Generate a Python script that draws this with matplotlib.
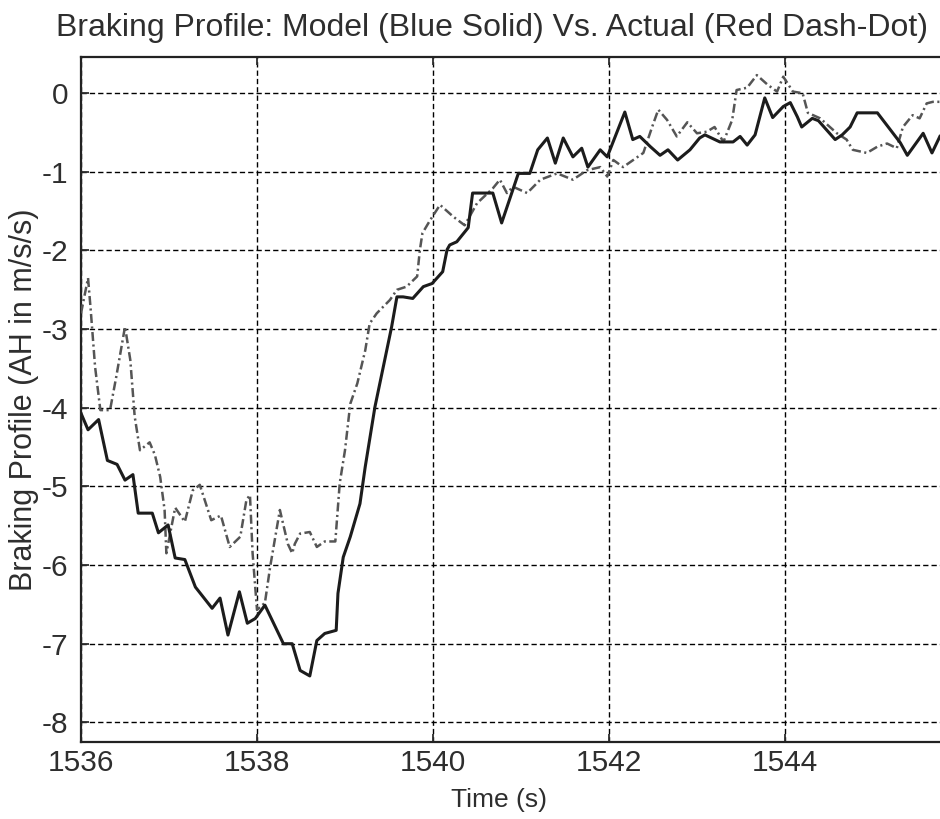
import matplotlib
matplotlib.use("Agg")
import matplotlib.pyplot as plt
import numpy as np

plt.rcParams['font.family'] = ['Liberation Sans', 'DejaVu Sans']
plt.rcParams['lines.scale_dashes'] = False

t0 = 1536.0

# Model (solid) : time offset from 1536 s, braking value
model_t = [0.00, 0.08, 0.20, 0.30, 0.41, 0.50, 0.59, 0.65, 0.81, 0.88, 0.99, 1.07, 1.18, 1.30,
           1.49, 1.58, 1.67, 1.80, 1.89, 1.98, 2.09, 2.30, 2.40, 2.49, 2.60, 2.68, 2.77, 2.90,
           2.92, 2.98, 3.06, 3.17, 3.23, 3.34, 3.45, 3.53, 3.59, 3.66, 3.77, 3.89, 3.99, 4.11,
           4.16, 4.19, 4.27, 4.40, 4.45, 4.68, 4.78, 4.97, 5.10, 5.19, 5.30, 5.39, 5.48, 5.59,
           5.69, 5.76, 5.90, 5.98, 6.18, 6.27, 6.35, 6.47, 6.58, 6.67, 6.78, 6.92, 7.03, 7.09,
           7.26, 7.41, 7.49, 7.57, 7.66, 7.77, 7.86, 7.98, 8.06, 8.14, 8.19, 8.31, 8.38, 8.57,
           8.65, 8.74, 8.82, 9.05, 9.31, 9.39, 9.57, 9.67, 9.76]
model_v = [-4.07, -4.28, -4.15, -4.67, -4.72, -4.92, -4.85, -5.34, -5.34, -5.59, -5.49, -5.91, -5.93, -6.28,
           -6.55, -6.42, -6.89, -6.34, -6.74, -6.68, -6.51, -7.00, -7.00, -7.34, -7.41, -6.96, -6.87, -6.83,
           -6.36, -5.90, -5.64, -5.22, -4.75, -3.99, -3.40, -2.97, -2.59, -2.59, -2.61, -2.46, -2.42, -2.27,
           -1.99, -1.93, -1.89, -1.71, -1.27, -1.27, -1.65, -1.02, -1.02, -0.72, -0.57, -0.89, -0.57, -0.81,
           -0.70, -0.94, -0.72, -0.81, -0.24, -0.59, -0.55, -0.68, -0.79, -0.72, -0.85, -0.72, -0.57, -0.53,
           -0.62, -0.62, -0.55, -0.66, -0.53, -0.06, -0.31, -0.17, -0.12, -0.30, -0.43, -0.32, -0.35, -0.59,
           -0.53, -0.43, -0.25, -0.25, -0.63, -0.79, -0.51, -0.76, -0.55]

# Actual (dash-dot)
actual_t = [0.00, 0.08, 0.11, 0.16, 0.22, 0.33, 0.40, 0.50, 0.56, 0.61, 0.67, 0.78, 0.84, 0.90,
            0.95, 0.97, 1.07, 1.18, 1.27, 1.35, 1.48, 1.59, 1.69, 1.81, 1.88, 1.92, 1.95, 2.00,
            2.09, 2.15, 2.26, 2.35, 2.40, 2.43, 2.49, 2.60, 2.68, 2.77, 2.89, 2.94, 3.00, 3.06,
            3.14, 3.23, 3.28, 3.36, 3.51, 3.59, 3.70, 3.82, 3.85, 3.88, 3.97, 4.08, 4.23, 4.36,
            4.50, 4.68, 4.76, 4.84, 4.91, 5.07, 5.22, 5.41, 5.59, 5.75, 5.90, 5.98, 6.05, 6.16,
            6.39, 6.49, 6.56, 6.66, 6.77, 6.89, 7.00, 7.11, 7.20, 7.30, 7.40, 7.45, 7.57, 7.68,
            7.80, 7.91, 7.98, 8.09, 8.20, 8.26, 8.40, 8.59, 8.70, 8.77, 8.93, 9.05, 9.16, 9.27,
            9.34, 9.45, 9.53, 9.61, 9.68, 9.76]
actual_v = [-2.80, -2.35, -2.75, -3.48, -4.03, -4.03, -3.61, -2.97, -3.39, -4.11, -4.54, -4.44, -4.60, -4.88,
            -5.30, -5.85, -5.27, -5.45, -5.05, -4.98, -5.43, -5.37, -5.77, -5.64, -5.17, -5.11, -5.85, -6.57,
            -6.48, -6.02, -5.30, -5.73, -5.85, -5.73, -5.60, -5.58, -5.77, -5.70, -5.70, -4.96, -4.54, -3.95,
            -3.69, -3.27, -2.93, -2.80, -2.63, -2.50, -2.46, -2.33, -2.00, -1.78, -1.61, -1.42, -1.57, -1.68,
            -1.40, -1.21, -1.10, -1.27, -1.19, -1.27, -1.10, -1.02, -1.10, -0.98, -0.94, -1.06, -0.85, -0.94,
            -0.76, -0.43, -0.21, -0.34, -0.55, -0.37, -0.51, -0.49, -0.43, -0.62, -0.34, 0.04, 0.07, 0.23,
            0.11, 0.02, 0.21, 0.02, 0.00, -0.25, -0.32, -0.51, -0.59, -0.72, -0.76, -0.68, -0.64, -0.70,
            -0.43, -0.28, -0.32, -0.13, -0.11, -0.11]

xticks = [1536, 1538, 1540, 1542, 1544]
yticks = [0, -1, -2, -3, -4, -5, -6, -7, -8]

fig = plt.figure(figsize=(9.4, 8.19), dpi=100)
ax = fig.add_axes([81/940, 1 - 742/819, 1 - 81/940, (742 - 57)/819])

tc = '#2e2e2e'
ax.plot(t0 + np.array(actual_t), actual_v, color='#555555', lw=1.8,
        linestyle=(0, (6.5, 2.5, 1.5, 2.5)), zorder=3)
ax.plot(t0 + np.array(model_t), model_v, color='#1c1c1c', lw=2.2, zorder=4)

ax.set_xlim(1536, 1536 + (940 - 81) / 88)
ax.set_ylim(-8.25, 0.46)
ax.set_xticks(xticks)
ax.set_yticks(yticks)
ax.set_yticklabels([str(v) if v == 0 else '-%d' % abs(v) for v in yticks])

ax.grid(True, color='black', linestyle=(0, (3.8, 2.2)), linewidth=1.0)
ax.tick_params(direction='in', length=6, width=1.3, top=True, right=False,
               labelsize=21.5, colors=tc, pad=5)
ax.tick_params(axis='y', pad=9)
for s in ['left', 'bottom', 'top']:
    ax.spines[s].set_linewidth(1.6)
    ax.spines[s].set_color('#222222')
ax.spines['right'].set_visible(False)

ax.set_title('Braking Profile: Model (Blue Solid) Vs. Actual (Red Dash-Dot)',
             fontsize=23, color=tc, pad=15, x=0.478)
ax.set_xlabel('Time (s)', fontsize=19, color=tc, labelpad=8, x=0.487)
ax.set_ylabel('Braking Profile (AH in m/s/s)', fontsize=22, color=tc, labelpad=2)

fig.savefig('out.png', dpi=100)
